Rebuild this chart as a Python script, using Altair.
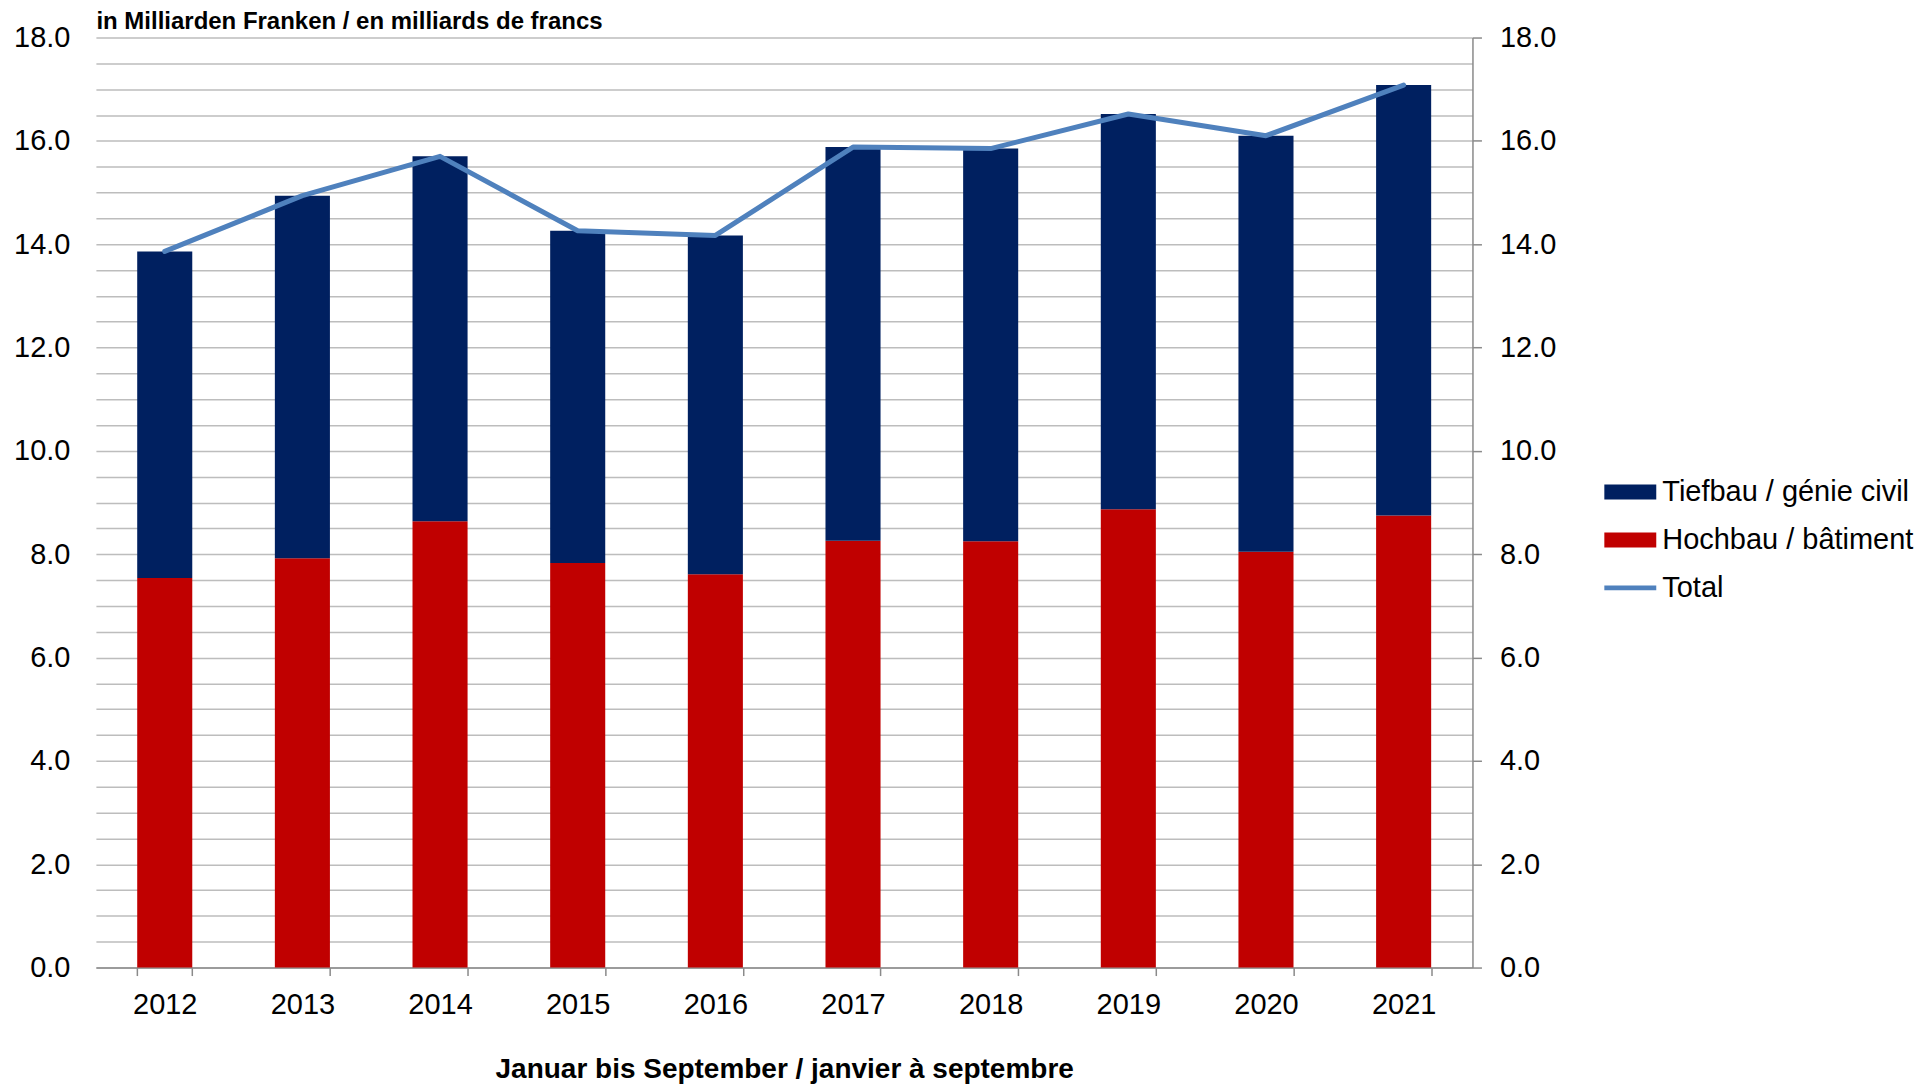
import altair as alt
import pandas as pd

# ---- data ----
years = ["2012", "2013", "2014", "2015", "2016", "2017", "2018", "2019", "2020", "2021"]
hochbau = [7.54, 7.92, 8.64, 7.83, 7.61, 8.26, 8.25, 8.87, 8.05, 8.75]
tiefbau = [6.32, 7.02, 7.06, 6.43, 6.56, 7.62, 7.60, 7.65, 8.05, 8.33]
total = [13.86, 14.94, 15.70, 14.26, 14.17, 15.88, 15.85, 16.52, 16.10, 17.08]

series_names = ["Tiefbau / génie civil", "Hochbau / bâtiment", "Total"]
series_colors = ["#002060", "#c00000", "#4f81bd"]
legend_shapes = [
    "M-1.083,-0.3125H1.083V0.3125H-1.083Z",
    "M-1.083,-0.3125H1.083V0.3125H-1.083Z",
    "M-1.083,-0.1H1.083V0.1H-1.083Z",
]
grid_values = [0, 0.5, 1, 1.5, 2, 2.5, 3, 3.5, 4, 4.5, 5, 5.5, 6, 6.5, 7, 7.5, 8, 8.5, 9,
               9.5, 10, 10.5, 11, 11.5, 12, 12.5, 13, 13.5, 14, 14.5, 15, 15.5, 16, 16.5,
               17, 17.5, 18]
label_values = [0, 2, 4, 6, 8, 10, 12, 14, 16, 18]

y_title = "in Milliarden Franken / en milliards de francs"
x_title = "Januar bis September / janvier à septembre"

rows = []
for i, yr in enumerate(years):
    rows.append({"year": yr, "series": series_names[1], "value": hochbau[i], "ord": 0})
    rows.append({"year": yr, "series": series_names[0], "value": tiefbau[i], "ord": 1})
bars_df = pd.DataFrame(rows)
line_df = pd.DataFrame({"year": years, "total": total})
legend_df = pd.DataFrame({"series": series_names})

FONT = "Liberation Sans"
AXIS_GRAY = "#8a8a8a"

x_scale = alt.Scale(paddingInner=0.6, paddingOuter=0.3)
x_axis = alt.Axis(
    title=x_title, labelAngle=0, labelFont=FONT, labelFontSize=29, labelColor="#000000",
    labelPadding=15, tickBand="extent", ticks=True, tickSize=8, tickColor=AXIS_GRAY,
    tickWidth=1.5, domainColor=AXIS_GRAY, domainWidth=1.5, titleFont=FONT, titleFontSize=28,
    titleFontWeight="bold", titleColor="#000000", titlePadding=36, grid=False,
)
y_scale = alt.Scale(domain=[0, 18], nice=False, zero=True)

color_scale = alt.Scale(domain=series_names, range=series_colors)
legend_cfg = dict(
    title=None, orient="none", legendX=1512, legendY=431, symbolSize=2304,
    symbolStrokeWidth=0, symbolOpacity=1, labelFont=FONT, labelFontSize=29,
    labelColor="#000000", labelLimit=500, labelOffset=8, rowPadding=9, padding=0,
)

bars = alt.Chart(bars_df).mark_bar().encode(
    x=alt.X("year:N", scale=x_scale, axis=x_axis),
    y=alt.Y(
        "value:Q", stack="zero", scale=y_scale,
        axis=alt.Axis(
            values=grid_values,
            labelExpr="datum.value % 2 === 0 ? format(datum.value, '.1f') : ''",
            labelOverlap=False, grid=True, gridColor="#bdbdbd", gridWidth=1.5,
            domain=False, ticks=False, tickSize=0, labelPadding=26, labelFont=FONT,
            labelFontSize=29, labelColor="#000000", title=y_title, titleAngle=0,
            titleAlign="left", titleBaseline="alphabetic", titleX=0, titleY=-9,
            titleFont=FONT, titleFontSize=24, titleFontWeight="bold", titleColor="#000000",
        ),
    ),
    color=alt.Color("series:N", scale=color_scale, legend=alt.Legend(**legend_cfg)),
    order=alt.Order("ord:Q"),
)

line = alt.Chart(line_df).mark_line(
    color="#4f81bd", strokeWidth=5, strokeCap="round", strokeJoin="round"
).encode(
    x=alt.X("year:N", scale=x_scale, axis=x_axis),
    y=alt.Y(
        "total:Q", scale=y_scale,
        axis=alt.Axis(
            orient="right", values=label_values, format=".1f", grid=False, domain=True,
            domainColor=AXIS_GRAY, domainWidth=1.5, ticks=True, tickSize=9,
            tickColor=AXIS_GRAY, tickWidth=1.5, labelPadding=18, labelFont=FONT,
            labelFontSize=29, labelColor="#000000", title=None, labelOverlap=False,
        ),
    ),
)

legend_layer = alt.Chart(legend_df).mark_point(filled=True, opacity=0).encode(
    color=alt.Color("series:N", scale=color_scale, legend=alt.Legend(**legend_cfg)),
    shape=alt.Shape(
        "series:N", scale=alt.Scale(domain=series_names, range=legend_shapes),
        legend=alt.Legend(**legend_cfg),
    ),
)

chart = (
    alt.layer(bars, line, legend_layer)
    .resolve_scale(y="independent")
    .properties(
        width=1378, height=931,
        padding={"left": 5, "top": 1, "right": 0, "bottom": 0},
        background="white",
    )
    .configure_view(stroke=None)
)

chart.save("out.html", embed_options={"renderer": "svg", "actions": False})
